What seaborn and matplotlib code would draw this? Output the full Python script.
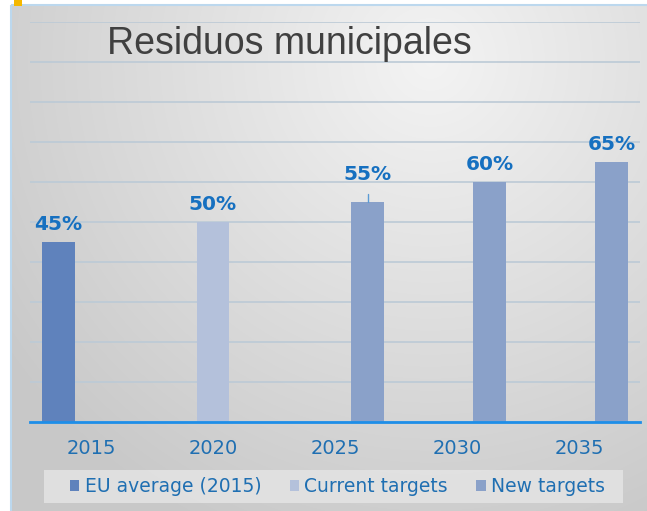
import numpy as np
import pandas as pd
import matplotlib
matplotlib.use("Agg")
import matplotlib.pyplot as plt
from matplotlib.patches import Rectangle
import seaborn as sns

years = ["2015", "2020", "2025", "2030", "2035"]
values = [45, 50, 55, 60, 65]
series = ["EU average (2015)", "Current targets", "New targets", "New targets", "New targets"]
series_order = ["EU average (2015)", "Current targets", "New targets"]
colors = ["#5f82bc", "#b4c1db", "#8aa1c9"]

df = pd.DataFrame({"year": years, "value": values, "series": series})

sns.set_style("white")
plt.rcParams["font.family"] = ["DejaVu Sans"]

W, H = 647, 511
fig = plt.figure(figsize=(W / 100, H / 100), dpi=100)
fig.patch.set_facecolor("white")

# background gradient panel
bg = fig.add_axes([0, 0, 1, 1], zorder=-10)
yy, xx = np.mgrid[0:H, 0:W]
r = np.sqrt(((xx - 430) / 520.0) ** 2 + ((yy - 60) / 520.0) ** 2)
r = np.clip(r, 0, 1)
img = 0.955 - 0.17 * r
rgb = np.dstack([img, img, img])
rgb[:5, :, :] = 1.0
rgb[:, :12, :] = 1.0
bg.imshow(rgb, extent=[0, W, H, 0], aspect="auto")
bg.add_patch(Rectangle((11, 5), W, H, fill=False, edgecolor="#bcd8ee", lw=1.5))
bg.add_patch(Rectangle((14, 0), 8, 6, color="#f5b800", lw=0))
# legend box
bg.add_patch(Rectangle((44, 470), 579, 33, color="#e4e4e4", alpha=0.85, lw=0))
bg.set_xlim(0, W)
bg.set_ylim(H, 0)
bg.axis("off")

ax = fig.add_axes([30 / W, 89 / H, 610 / W, 400 / H])
ax.patch.set_alpha(0)
sns.barplot(data=df, x="year", y="value", hue="series", hue_order=series_order,
            palette=colors, width=0.8, dodge=True, ax=ax, saturation=1, legend=True,
            linewidth=0, edgecolor="none")

ax.set_xlim(-0.5, 4.5)
ax.set_ylim(0, 100)
ax.set_yticks(range(0, 101, 10))
ax.yaxis.grid(True, color="#bccad6", lw=1.2)
ax.set_axisbelow(True)
ax.tick_params(axis="y", left=False, labelleft=False)
ax.tick_params(axis="x", bottom=False, labelsize=14, labelcolor="#1f6fb2", pad=9)
ax.set_xlabel("")
ax.set_ylabel("")
for s in ["top", "right", "left"]:
    ax.spines[s].set_visible(False)
ax.spines["bottom"].set_color("#1e8ee8")
ax.spines["bottom"].set_linewidth(2)

# data labels
for bar in ax.patches:
    h = bar.get_height()
    if not np.isfinite(h) or h == 0 or bar.get_width() == 0:
        continue
    cx = bar.get_x() + bar.get_width() / 2
    off = 6
    if h == 55:
        off = 13
        ax.plot([cx, cx], [h, h + 2], color="#5b9bd5", lw=1)
    ax.annotate(f"{h:.0f}%", (cx, h), xytext=(0, off), textcoords="offset points",
                ha="center", va="bottom", fontsize=14.5, fontweight="bold", color="#1670c0")

leg = ax.legend(loc="center", bbox_to_anchor=(337.5 / W, 1 - 486.5 / H),
                bbox_transform=fig.transFigure, ncol=3, frameon=False, fontsize=13.5,
                handlelength=0.5, handleheight=0.5, handletextpad=0.3, columnspacing=1.5,
                borderpad=0.2, borderaxespad=0)
for t in leg.get_texts():
    t.set_color("#1f6fb2")

fig.text(289 / W, 1 - 44 / H, "Residuos municipales", ha="center", va="center",
         fontsize=27, color="#404040", family="Liberation Sans")

fig.savefig("out.png", dpi=100)
